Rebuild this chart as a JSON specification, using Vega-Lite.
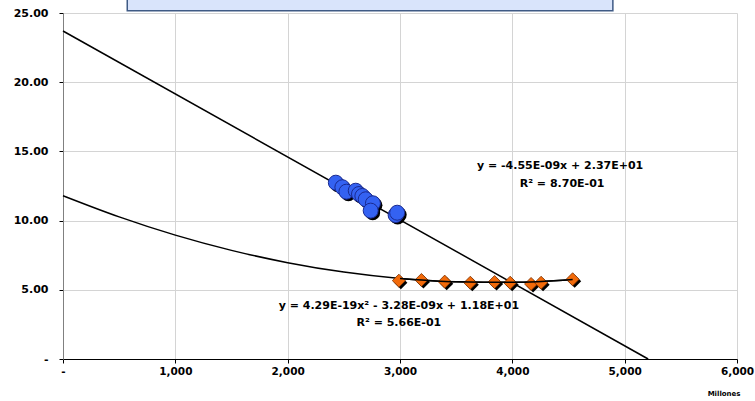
{
  "$schema": "https://vega.github.io/schema/vega-lite/v6.json",
  "autosize": "none",
  "width": 674,
  "height": 346,
  "padding": {"left": 63, "top": 13, "right": 18, "bottom": 42},
  "background": "white",
  "config": {
    "view": {"stroke": null},
    "font": "DejaVu Sans",
    "axis": {
      "labelFont": "DejaVu Sans",
      "labelFontWeight": "bold",
      "labelFontSize": 11,
      "labelColor": "black",
      "gridColor": "#d4d4d4",
      "gridWidth": 1,
      "tickColor": "black",
      "tickSize": 4
    }
  },
  "datasets": {
    "blue": [
      {"x": 2429, "y": 12.74},
      {"x": 2487, "y": 12.41},
      {"x": 2523, "y": 12.09},
      {"x": 2606, "y": 12.16},
      {"x": 2635, "y": 11.92},
      {"x": 2665, "y": 11.78},
      {"x": 2695, "y": 11.54},
      {"x": 2759, "y": 11.25},
      {"x": 2739, "y": 10.72},
      {"x": 2961, "y": 10.40},
      {"x": 2975, "y": 10.57}
    ],
    "orange": [
      {"x": 2990, "y": 5.66},
      {"x": 3191, "y": 5.71},
      {"x": 3398, "y": 5.59},
      {"x": 3626, "y": 5.51},
      {"x": 3842, "y": 5.56},
      {"x": 3981, "y": 5.51},
      {"x": 4167, "y": 5.42},
      {"x": 4256, "y": 5.51},
      {"x": 4537, "y": 5.76}
    ],
    "linfit": [
      {"x": 0, "y": 23.7},
      {"x": 5209, "y": 0}
    ],
    "polyfit": [
      {"x": 0, "y": 11.80},
      {"x": 500, "y": 10.27},
      {"x": 1000, "y": 8.95},
      {"x": 1500, "y": 7.85},
      {"x": 2000, "y": 6.96},
      {"x": 2500, "y": 6.28},
      {"x": 3000, "y": 5.82},
      {"x": 3500, "y": 5.58},
      {"x": 4000, "y": 5.54},
      {"x": 4537, "y": 5.75}
    ],
    "labels": [
      {"x": 4425, "y": 13.95, "t": "y = -4.55E-09x + 2.37E+01"},
      {"x": 4443, "y": 12.64, "t": "R² = 8.70E-01"},
      {"x": 2990, "y": 3.83, "t": "y = 4.29E-19x² - 3.28E-09x + 1.18E+01"},
      {"x": 2990, "y": 2.60, "t": "R² = 5.66E-01"}
    ],
    "box": [
      {"x1": 572, "x2": 4895, "y1": 25.17, "y2": 26.6}
    ]
  },
  "layer": [
    {
      "data": {"name": "linfit"},
      "mark": {"type": "line", "color": "black", "strokeWidth": 1.5},
      "encoding": {
        "x": {
          "field": "x", "type": "quantitative",
          "scale": {"domain": [0, 6000], "nice": false},
          "axis": {
            "values": [0, 1000, 2000, 3000, 4000, 5000, 6000],
            "labelExpr": "datum.value == 0 ? '-\u00a0\u00a0' : format(datum.value, ',')",
            "labelFontSize": 10.5,
            "labelFlush": false,
            "labelPadding": 3,
            "domainColor": "black",
            "domainWidth": 1,
            "title": "Millones",
            "titleFont": "DejaVu Sans",
            "titleFontSize": 7,
            "titleFontWeight": "bold",
            "titleColor": "black",
            "titleAnchor": "end",
            "titleAlign": "right",
            "titleX": 677,
            "titleY": 34,
            "titleBaseline": "middle"
          }
        },
        "y": {
          "field": "y", "type": "quantitative",
          "scale": {"domain": [0, 25], "nice": false},
          "axis": {
            "values": [0, 5, 10, 15, 20, 25],
            "labelExpr": "datum.value == 0 ? '-\u00a0\u00a0\u00a0\u00a0' : format(datum.value, '.2f')",
            "labelPadding": 11,
            "labelFlush": false,
            "domainColor": "#808080",
            "domainWidth": 1,
            "title": null
          }
        }
      }
    },
    {
      "data": {"name": "polyfit"},
      "mark": {"type": "line", "color": "black", "strokeWidth": 1.5, "interpolate": "monotone"},
      "encoding": {
        "x": {"field": "x", "type": "quantitative"},
        "y": {"field": "y", "type": "quantitative"}
      }
    },
    {
      "data": {"name": "blue"},
      "mark": {"type": "point", "shape": "circle", "filled": true, "size": 225, "color": "black", "opacity": 1, "xOffset": 2, "yOffset": 2},
      "encoding": {
        "x": {"field": "x", "type": "quantitative"},
        "y": {"field": "y", "type": "quantitative"}
      }
    },
    {
      "data": {"name": "blue"},
      "mark": {"type": "point", "shape": "circle", "filled": true, "size": 225, "fill": "#3462F2", "stroke": "#1A2A90", "strokeWidth": 1, "opacity": 1},
      "encoding": {
        "x": {"field": "x", "type": "quantitative"},
        "y": {"field": "y", "type": "quantitative"}
      }
    },
    {
      "data": {"name": "orange"},
      "mark": {"type": "point", "shape": "diamond", "filled": true, "size": 170, "color": "black", "opacity": 1, "xOffset": 2, "yOffset": 2},
      "encoding": {
        "x": {"field": "x", "type": "quantitative"},
        "y": {"field": "y", "type": "quantitative"}
      }
    },
    {
      "data": {"name": "orange"},
      "mark": {"type": "point", "shape": "diamond", "filled": true, "size": 170, "fill": "#F26A0A", "stroke": "#7A3000", "strokeWidth": 0.8, "opacity": 1},
      "encoding": {
        "x": {"field": "x", "type": "quantitative"},
        "y": {"field": "y", "type": "quantitative"}
      }
    },
    {
      "data": {"name": "polyfit"},
      "mark": {"type": "line", "color": "black", "strokeWidth": 1.5, "interpolate": "monotone"},
      "transform": [{"filter": "datum.x >= 3000"}],
      "encoding": {
        "x": {"field": "x", "type": "quantitative"},
        "y": {"field": "y", "type": "quantitative"}
      }
    },
    {
      "data": {"name": "labels"},
      "mark": {"type": "text", "font": "DejaVu Sans", "fontWeight": "bold", "fontSize": 11, "color": "black", "align": "center", "baseline": "middle"},
      "encoding": {
        "x": {"field": "x", "type": "quantitative"},
        "y": {"field": "y", "type": "quantitative"},
        "text": {"field": "t"}
      }
    },
    {
      "data": {"name": "box"},
      "mark": {"type": "rect", "fill": "#D9E4FB", "stroke": "#3F5A85", "strokeWidth": 1.5, "clip": false},
      "encoding": {
        "x": {"field": "x1", "type": "quantitative"},
        "x2": {"field": "x2"},
        "y": {"field": "y1", "type": "quantitative"},
        "y2": {"field": "y2"}
      }
    }
  ]
}
